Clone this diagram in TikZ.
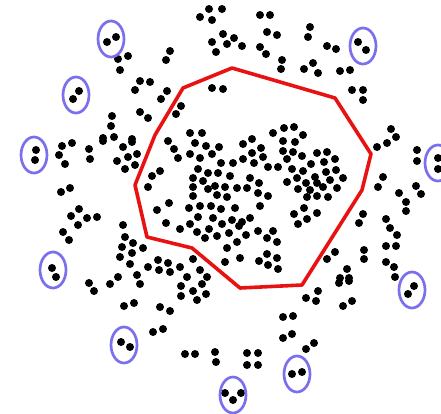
\documentclass[tikz,border=0pt]{standalone}
\usepackage{tikz}
\definecolor{ringblue}{RGB}{122,112,238}
\definecolor{hullred}{RGB}{232,18,18}
\tikzset{
  pt/.style={fill=black},
  ring/.style={draw=ringblue,line width=2.7pt},
  hull/.style={draw=hullred,line width=3.6pt,line join=round}
}
\begin{document}
\begin{tikzpicture}[x=1pt,y=-1pt]
  \useasboundingbox (0,0) rectangle (441,413);
  % 外側の点
  \foreach \p in {(200,17),(209,9),(212,20),(222,9),(212,42),(216,52),(223,34),(234,38),(227,44),(242,46),
    (260,15),(270,15),(267,32),(277,35),(260,47),(266,54),(282,60),(281,69),(310,27),(308,37),(327,46),(336,49),
    (304,69),(313,63),(318,73),(340,71),(350,70),(352,90),(363,90),(363,100),(223,89),(212,88),
    (170,51),(166,60),(118,59),(128,56),(120,70),(140,81),(150,82),(135,90),(167,91),(161,99),(181,106),(176,114),
    (140,112),(148,118),(112,116),(111,126),(114,137),(103,138),(132,139),(391,129),(396,137),
    (62,146),(72,143),(59,155),(65,164),(89,149),(90,159),(103,141),(123,147),(132,142),(128,157),(137,154),
    (117,161),(125,169),(135,165),(61,192),(70,188),(79,209),(71,216),(87,218),(97,217),(78,225),(63,232),(69,240),
    (123,225),(125,237),(122,247),(133,243),(143,248),(132,253),(120,257),(130,264),(137,275),(118,277),
    (148,267),(158,260),(159,270),(168,263),(170,272),(180,267),(193,259),(187,277),(200,270),(207,277),
    (89,283),(94,291),(110,284),(140,284),(124,306),(134,303),(160,307),(170,311),(181,286),(181,296),(193,291),
    (202,284),(206,294),(197,300),(153,332),(163,329),(185,354),(195,354),(215,352),(216,362),
    (318,291),(306,298),(316,301),(339,283),(349,281),(343,306),(352,301),(283,317),(293,316),(283,338),(292,334),
    (306,349),(314,343),(247,353),(258,353),(247,365),(258,365),
    (377,147),(387,143),(417,150),(417,161),(383,177),(378,187),(416,186),(421,194),(399,193),(406,202),(406,211),
    (363,214),(359,223),(386,219),(390,228),(397,235),(386,246),(396,246),(364,250),(364,259),(386,262),(394,267),
    (395,277),(335,252),(327,259),(347,269),(340,278),(349,278)}
    \fill[pt] \p circle[radius=4pt];
  % 内側の点
  \foreach \p in {(190,133),(202,133),(168,141),(174,149),(178,158),(190,154),(195,143),(206,146),(219,147),
    (212,154),(200,158),(221,163),(233,163),(198,169),(208,173),(218,173),(193,178),(203,181),(230,176),(215,186),
    (225,187),(193,187),(208,189),(237,188),(193,196),(217,195),(227,197),(160,171),(152,176),(148,187),
    (273,133),(284,128),(294,127),(303,135),(283,141),(295,142),(243,144),(252,139),(252,153),(261,148),(243,159),
    (254,163),(263,157),(283,151),(293,152),(302,156),(287,159),(317,153),(327,152),(268,167),(278,167),(292,169),
    (311,164),(324,162),(335,159),(303,171),(315,177),(326,172),(336,170),(250,178),(259,183),(287,182),(297,178),
    (306,183),(317,183),(330,180),(343,178),(247,188),(258,193),(268,196),(298,189),(310,190),(323,187),(337,188),
    (307,197),(317,196),(328,197),
    (169,203),(157,210),(166,223),(180,229),(189,208),(200,206),(211,206),(221,209),(235,208),(198,217),(213,218),
    (222,224),(232,220),(242,222),(190,224),(197,232),(209,229),(205,238),(217,236),(229,233),(239,226),(237,242),
    (227,248),(225,262),(240,258),(246,235),
    (260,206),(250,218),(258,231),(267,238),(273,231),(277,242),(267,254),(259,261),(277,258),(268,265),(278,269),
    (294,214),(304,208),(317,213),(307,219),(298,224)}
    \fill[pt] \p circle[radius=4pt];
  % 外れ値のペア
  \foreach \p in {(107,42),(116,37),(73,99),(79,91),(358,42),(366,50),(36,150),(35,160),(52,268),(56,277),
    (121,342),(130,347),(225,393),(233,400),(241,393),(292,374),(302,372),(414,286),(408,294),(438,158),(438,169)}
    \fill[pt] \p circle[radius=4pt];
  \foreach \c in {(111,39),(76,95),(363,46),(34,155),(53,270),(124,345),(233,395),(297,374),(412,290),(438,163)}
    \draw[ring] \c ellipse[x radius=13pt,y radius=18pt];
  % 凸包
  \draw[hull] (183,88) -- (232,68) -- (335,98) -- (371,154) -- (362,190) -- (302,285) -- (240,288)
    -- (192,248) -- (147,237) -- (135,185) -- (155,135) -- cycle;
\end{tikzpicture}
\end{document}
